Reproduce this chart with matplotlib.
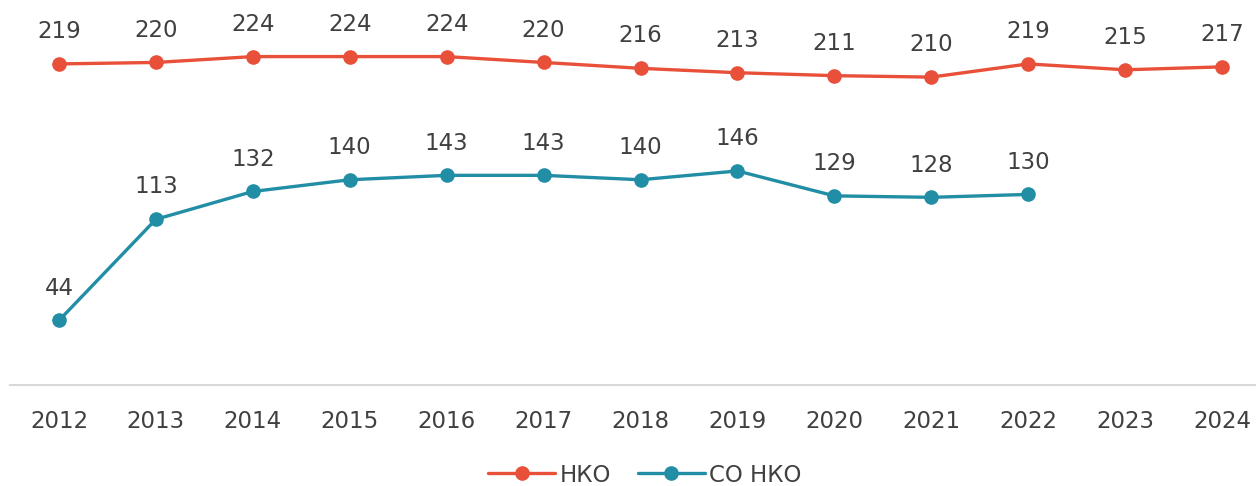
import matplotlib
matplotlib.use('Agg')
import matplotlib.pyplot as plt

years = ['2012', '2013', '2014', '2015', '2016', '2017', '2018',
         '2019', '2020', '2021', '2022', '2023', '2024']
nko = [219, 220, 224, 224, 224, 220, 216, 213, 211, 210, 219, 215, 217]
so_nko = [44, 113, 132, 140, 143, 143, 140, 146, 129, 128, 130]

red = '#E8503A'
teal = '#218EA5'
txt = '#404040'

plt.rcParams['font.family'] = ['DejaVu Sans']

fig = plt.figure(figsize=(12.56, 4.86), dpi=100)
ax = fig.add_axes([10 / 1256, 1 - 385 / 486, 1 - 10 / 1256, 385 / 486])

x1 = list(range(len(nko)))
x2 = list(range(len(so_nko)))
ax.plot(x1, nko, color=red, lw=2.4, marker='o', ms=9.5, label='НКО',
        solid_capstyle='round')
ax.plot(x2, so_nko, color=teal, lw=2.4, marker='o', ms=9.5, label='СО НКО',
        solid_capstyle='round')

for xs, vals in [(x1, nko), (x2, so_nko)]:
    for x, v in zip(xs, vals):
        ax.annotate(str(v), (x, v), xytext=(0, 15), textcoords='offset points',
                    ha='center', va='bottom', fontsize=16.5, color=txt)

ax.set_xlim(-0.505, 12.35)
ax.set_ylim(0, 262.6)
ax.set_xticks(x1)
ax.set_xticklabels(years, fontsize=16.5, color=txt)
ax.set_yticks([])
ax.tick_params(axis='x', length=0, pad=18)
for s in ['top', 'right', 'left']:
    ax.spines[s].set_visible(False)
ax.spines['bottom'].set_color('#D9D9D9')
ax.spines['bottom'].set_linewidth(1.5)

leg = fig.legend(loc='center', bbox_to_anchor=(645 / 1256, 1 - 475 / 486),
                 ncol=2, frameon=False, fontsize=16.5, handlelength=2.9,
                 handletextpad=0.2, columnspacing=1.2)
for t in leg.get_texts():
    t.set_color(txt)

fig.savefig('out.png', dpi=100)
